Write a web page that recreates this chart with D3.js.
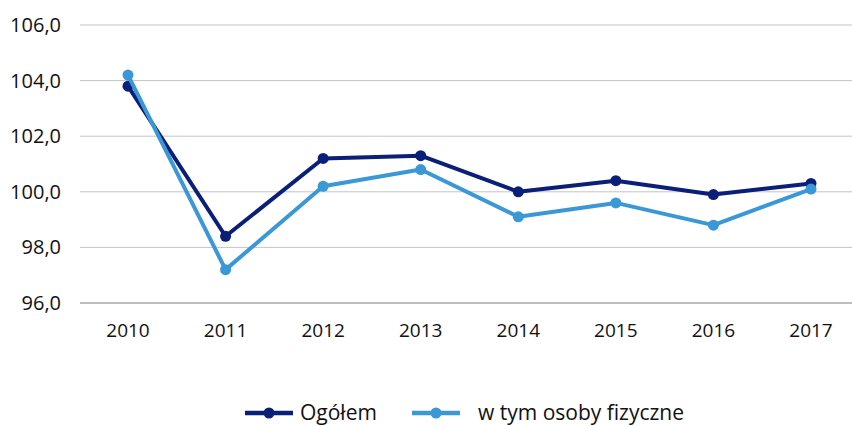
<!DOCTYPE html>
<html>
<head>
<meta charset="utf-8">
<script src="https://cdn.jsdelivr.net/npm/d3@7"></script>
<style>
  body { margin: 0; background: #fff; }
  svg { display: block; font-family: "Open Sans", sans-serif; }
</style>
</head>
<body>
<script>
// data
const years = ['2010', '2011', '2012', '2013', '2014', '2015', '2016', '2017'];
const ogolem = [103.8, 98.4, 101.2, 101.3, 100.0, 100.4, 99.9, 100.3];
const osobyFizyczne = [104.2, 97.2, 100.2, 100.8, 99.1, 99.6, 98.8, 100.1];
const yTicks = [96, 98, 100, 102, 104, 106];

const series = [
  { name: 'Ogółem', values: ogolem, color: '#0a1f78' },
  { name: 'w tym osoby fizyczne', values: osobyFizyczne, color: '#3a98d6' }
];

const WIDTH = 852;
const HEIGHT = 426;
const PLOT_LEFT = 80;
const PLOT_RIGHT = 852;
const PLOT_TOP = 25;
const PLOT_BOT = 303;

const svg = d3.select('body')
  .append('svg')
    .attr('width', WIDTH)
    .attr('height', HEIGHT);

const x = d3.scalePoint()
    .domain(years)
    .range([128, 811]);

const y = d3.scaleLinear()
    .domain([96, 106])
    .range([PLOT_BOT, PLOT_TOP]);

const fmt = v => d3.format('.1f')(v).replace('.', ',');

// gridlines
svg.append('g')
  .selectAll('line')
  .data(yTicks)
  .join('line')
    .attr('x1', PLOT_LEFT)
    .attr('x2', PLOT_RIGHT)
    .attr('y1', d => y(d))
    .attr('y2', d => y(d))
    .attr('stroke', d => d === 96 ? '#a8a8a8' : '#c4c4c4')
    .attr('stroke-width', d => d === 96 ? 1.5 : 1);

// y tick labels
svg.append('g')
  .selectAll('text')
  .data(yTicks)
  .join('text')
    .attr('x', 61)
    .attr('y', d => y(d))
    .attr('dy', '0.35em')
    .attr('text-anchor', 'end')
    .attr('font-size', 20)
    .attr('fill', '#111')
    .text(fmt);

// x tick labels
svg.append('g')
  .selectAll('text')
  .data(years)
  .join('text')
    .attr('x', d => x(d))
    .attr('y', 330)
    .attr('dy', '0.35em')
    .attr('text-anchor', 'middle')
    .attr('font-size', 19)
    .attr('fill', '#111')
    .text(d => d);

// lines and markers
const line = d3.line()
    .x((d, i) => x(years[i]))
    .y(d => y(d));

series.forEach(s => {
  svg.append('path')
      .datum(s.values)
      .attr('d', line)
      .attr('fill', 'none')
      .attr('stroke', s.color)
      .attr('stroke-width', 4)
      .attr('stroke-linejoin', 'round');

  svg.append('g')
    .selectAll('circle')
    .data(s.values)
    .join('circle')
      .attr('cx', (d, i) => x(years[i]))
      .attr('cy', d => y(d))
      .attr('r', 5.5)
      .attr('fill', s.color);
});

// legend
const legendItems = [
  { x: 245, textX: 300 },
  { x: 412, textX: 478 }
];

const legend = svg.append('g')
    .attr('transform', 'translate(0, 413)');

series.forEach((s, i) => {
  const item = legendItems[i];
  legend.append('line')
      .attr('x1', item.x)
      .attr('x2', item.x + 48)
      .attr('stroke', s.color)
      .attr('stroke-width', 4.5);
  legend.append('circle')
      .attr('cx', item.x + 24)
      .attr('r', 5.5)
      .attr('fill', s.color);
  legend.append('text')
      .attr('x', item.textX)
      .attr('dy', '0.35em')
      .attr('font-size', 21)
      .attr('fill', '#111')
      .text(s.name);
});
</script>
</body>
</html>
